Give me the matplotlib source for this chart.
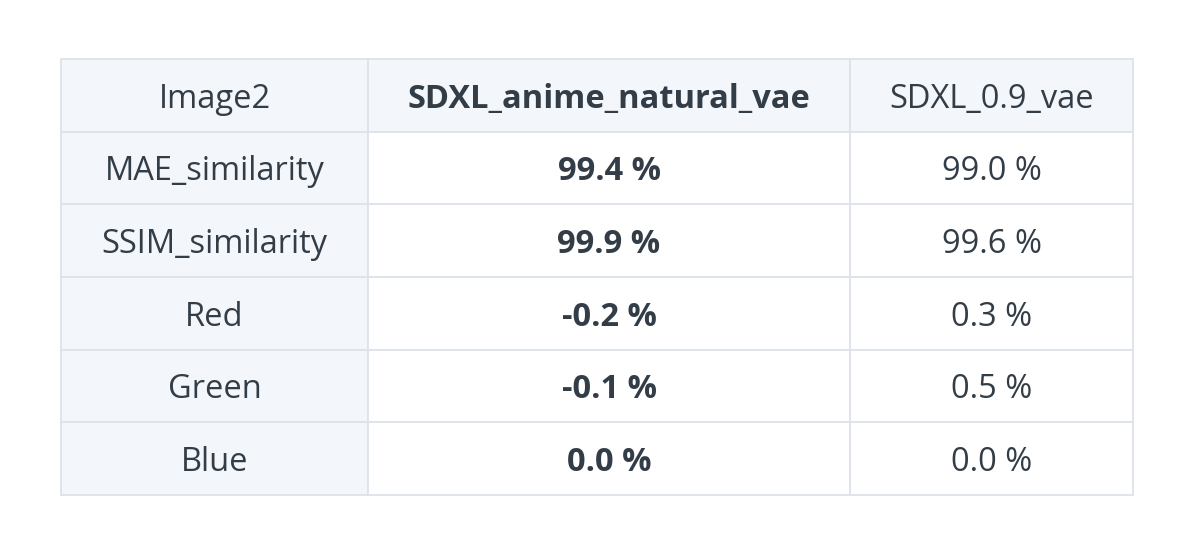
import matplotlib
matplotlib.use("Agg")
import matplotlib.pyplot as plt
from matplotlib.patches import Rectangle

header = ["Image2", "SDXL_anime_natural_vae", "SDXL_0.9_vae"]
metrics = ["MAE_similarity", "SSIM_similarity", "Red", "Green", "Blue"]
anime_vals = ["99.4 %", "99.9 %", "-0.2 %", "-0.1 %", "0.0 %"]
sdxl09_vals = ["99.0 %", "99.6 %", "0.3 %", "0.5 %", "0.0 %"]

W, H = 1200, 557
fig = plt.figure(figsize=(W/100, H/100), dpi=100)
ax = fig.add_axes([0, 0, 1, 1])
ax.set_xlim(0, W); ax.set_ylim(H, 0); ax.axis("off")

cols = [61, 368, 850, 1133]
top, bottom = 59, 495
nrows = 1 + len(metrics)
rh = (bottom - top) / nrows
shade = "#f3f6fa"
grid = "#dde3ea"
txt = "#333d47"
fs = 23.5
font = "Open Sans"

rows = [header] + [[m, a, b] for m, a, b in zip(metrics, anime_vals, sdxl09_vals)]
for r, row in enumerate(rows):
    y0 = top + r * rh
    for c in range(3):
        x0, x1 = cols[c], cols[c+1]
        bg = shade if (r == 0 or c == 0) else "white"
        ax.add_patch(Rectangle((x0, y0), x1 - x0, rh, facecolor=bg, edgecolor=grid, lw=1.3))
        weight = "bold" if c == 1 else "normal"
        ax.text((x0 + x1) / 2, y0 + rh / 2, row[c], ha="center", va="center_baseline",
                fontsize=fs, color=txt, fontweight=weight, family=font)

fig.savefig("out.png", dpi=100, facecolor="white")
